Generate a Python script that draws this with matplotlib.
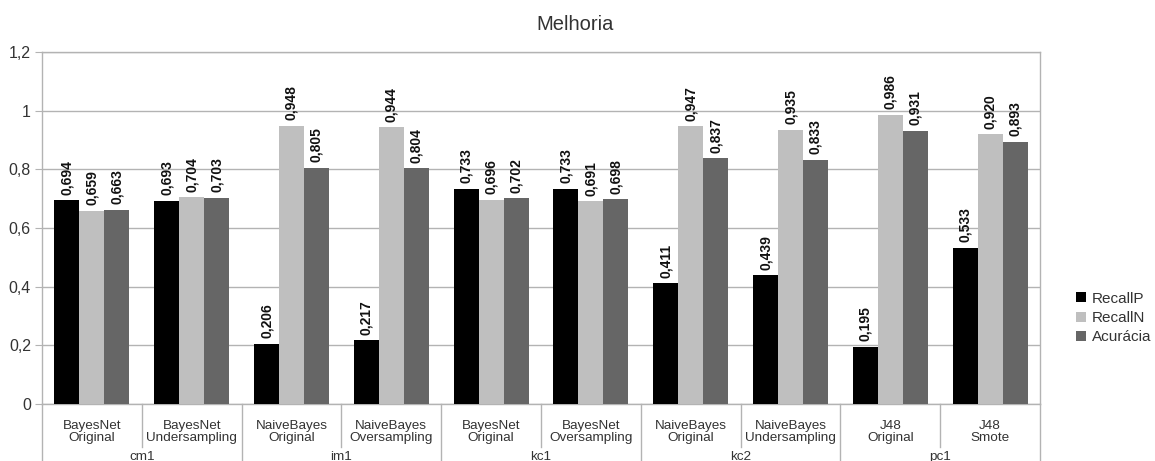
import numpy as np
import matplotlib
matplotlib.use("Agg")
import matplotlib.pyplot as plt
from matplotlib.patches import Patch
from matplotlib.ticker import FuncFormatter, MultipleLocator

plt.rcParams['font.family'] = ['Liberation Sans', 'DejaVu Sans']

# Data
methods = ["BayesNet\nOriginal", "BayesNet\nUndersampling",
           "NaiveBayes\nOriginal", "NaiveBayes\nOversampling",
           "BayesNet\nOriginal", "BayesNet\nOversampling",
           "NaiveBayes\nOriginal", "NaiveBayes\nUndersampling",
           "J48\nOriginal", "J48\nSmote"]
datasets = ["cm1", "im1", "kc1", "kc2", "pc1"]
recall_p = [0.694, 0.693, 0.206, 0.217, 0.733, 0.733, 0.411, 0.439, 0.195, 0.533]
recall_n = [0.659, 0.704, 0.948, 0.944, 0.696, 0.691, 0.947, 0.935, 0.986, 0.920]
acuracia = [0.663, 0.703, 0.805, 0.804, 0.702, 0.698, 0.837, 0.833, 0.931, 0.893]
series_names = ["RecallP", "RecallN", "Acurácia"]

colors = ["#000000", "#bfbfbf", "#666666"]
grid_c = "#b3b3b3"
text_c = "#333333"

W, H = 1155, 461
fig = plt.figure(figsize=(W / 100, H / 100), dpi=100)
ax = fig.add_axes([42 / W, (H - 404) / H, 998 / W, 352 / H])

x = np.arange(len(methods))
bw = 0.25
for i, (vals, c) in enumerate(zip([recall_p, recall_n, acuracia], colors)):
    pos = x + (i - 1) * bw
    ax.bar(pos, vals, width=bw, color=c, zorder=3)
    for px, v in zip(pos, vals):
        ax.annotate(f"{v:.3f}".replace(".", ","), (px, v),
                    xytext=(0, 4), textcoords="offset points",
                    rotation=90, ha="center", va="bottom",
                    fontsize=10, fontweight="bold", color="#111111")

ax.set_xlim(-0.5, len(methods) - 0.5)
ax.set_ylim(0, 1.2)
ax.yaxis.set_major_locator(MultipleLocator(0.2))


def fmt(v, _):
    s = f"{v:.1f}".replace(".", ",")
    return s[:-2] if s.endswith(",0") else s


ax.yaxis.set_major_formatter(FuncFormatter(fmt))
ax.grid(axis="y", color=grid_c, lw=1, zorder=0)
ax.set_axisbelow(True)
ax.tick_params(axis="y", direction="out", length=5, color=grid_c,
               labelsize=11.5, labelcolor=text_c, pad=3)
ax.tick_params(axis="x", bottom=False, labelbottom=False)
for s in ["left", "right", "bottom", "top"]:
    ax.spines[s].set_color(grid_c)
    ax.spines[s].set_linewidth(1)

# Two-level category axis
trans = ax.get_xaxis_transform()
px_y = 1 / 352
for k in range(len(methods) + 1):
    xb = k - 0.5
    y_end = -57 * px_y if k % 2 == 0 else -43 * px_y
    ax.plot([xb, xb], [0, y_end], color=grid_c, lw=1, transform=trans,
            clip_on=False)
for k, m in enumerate(methods):
    ax.text(k, -28 * px_y, m, transform=trans, ha="center", va="center",
            fontsize=9.7, color=text_c, linespacing=1.0)
for g, name in enumerate(datasets):
    ax.text(2 * g + 0.5, -53 * px_y, name, transform=trans, ha="center",
            va="center", fontsize=9.7, color=text_c)

fig.text(575 / W, 1 - 25 / H, "Melhoria", ha="center", va="center",
         fontsize=14.5, color=text_c)

handles = [Patch(facecolor=c, edgecolor="none") for c in colors]
fig.legend(handles, series_names, loc="center left",
           bbox_to_anchor=(1062 / W, 1 - 318 / H), frameon=False,
           fontsize=11, handlelength=0.65, handleheight=0.65,
           handletextpad=0.4, labelspacing=0.35, labelcolor=text_c)

fig.savefig("out.png", dpi=100)
